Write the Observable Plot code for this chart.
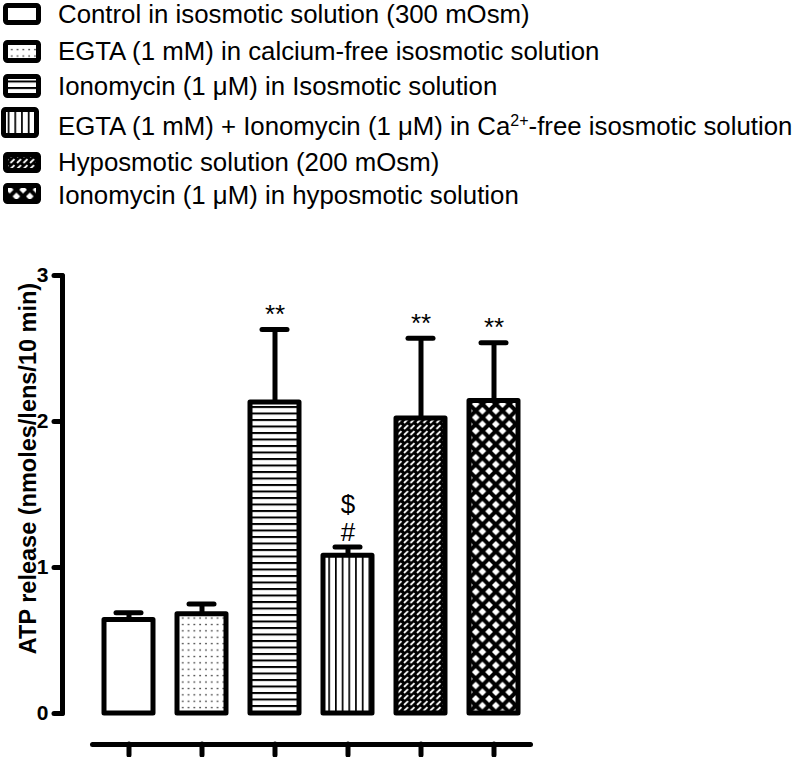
<!DOCTYPE html>
<html><head><meta charset="utf-8">
<script src="https://cdn.jsdelivr.net/npm/d3@7"></script>
<script src="https://cdn.jsdelivr.net/npm/@observablehq/plot@0.6"></script>
<style>
body{margin:0;background:#fff;font-family:"Liberation Sans",Arial,sans-serif;}
#legend{position:relative;width:799px;height:250px;}
.sw{position:absolute;}
.lab{position:absolute;left:58px;font-size:25.8px;color:#000;white-space:nowrap;transform:translateY(-50%);line-height:1;}
.lab sup{font-size:16px;vertical-align:0.6em;line-height:0;}
</style></head><body>
<svg width="0" height="0" style="position:absolute"><defs>
<pattern id="p-open" patternUnits="userSpaceOnUse" width="4" height="4"><rect width="4" height="4" fill="#fff"/></pattern>
<pattern id="p-dots" patternUnits="userSpaceOnUse" width="5.8" height="6.4"><rect width="5.8" height="6.4" fill="#fff"/><rect x="2.3" y="2.6" width="1.3" height="1.3" fill="#000"/></pattern>
<pattern id="p-hlines" patternUnits="userSpaceOnUse" width="8" height="6.5"><rect width="8" height="6.5" fill="#fff"/><rect y="0" width="8" height="2" fill="#000"/></pattern>
<pattern id="p-vlines" patternUnits="userSpaceOnUse" width="6.7" height="8"><rect width="6.7" height="8" fill="#fff"/><rect x="0" width="1.7" height="8" fill="#000"/></pattern>
<pattern id="p-dash" patternUnits="userSpaceOnUse" width="6.5" height="6"><rect width="6.5" height="6" fill="#000"/><line x1="1" y1="5" x2="5" y2="1.2" stroke="#fff" stroke-width="1.8"/></pattern>
<pattern id="p-cross" patternUnits="userSpaceOnUse" width="13.4" height="13.4"><rect width="13.4" height="13.4" fill="#000"/>
<polygon points="6.7,2.9 10.5,6.7 6.7,10.5 2.9,6.7" fill="#fff"/>
<polygon points="0,-3.8 3.8,0 0,3.8 -3.8,0" fill="#fff"/>
<polygon points="13.4,-3.8 17.2,0 13.4,3.8 9.6,0" fill="#fff"/>
<polygon points="0,9.6 3.8,13.4 0,17.2 -3.8,13.4" fill="#fff"/>
<polygon points="13.4,9.6 17.2,13.4 13.4,17.2 9.6,13.4" fill="#fff"/>
</pattern>
</defs></svg>
<div id="legend"></div>
<div id="chart"></div>
<script>
// ---- data ----
const groups = ["Control", "EGTA", "Ionomycin", "EGTA + Ionomycin", "Hyposmotic", "Ionomycin hyposmotic"];
const legendLabels = [
  "Control in isosmotic solution (300 mOsm)",
  "EGTA (1 mM) in calcium-free isosmotic solution",
  "Ionomycin (1 μM) in Isosmotic solution",
  "EGTA (1 mM) + Ionomycin (1 μM) in Ca<sup>2+</sup>-free isosmotic solution",
  "Hyposmotic solution (200 mOsm)",
  "Ionomycin (1 μM) in hyposmotic solution"
];
const means = [0.64, 0.68, 2.13, 1.08, 2.02, 2.14];
const errors = [0.05, 0.07, 0.50, 0.06, 0.55, 0.40];
const patternIds = ["p-open", "p-dots", "p-hlines", "p-vlines", "p-dash", "p-cross"];
const yTicks = [0, 1, 2, 3];
const annotationGroups = ["Ionomycin", "EGTA + Ionomycin", "Hyposmotic", "Ionomycin hyposmotic"];
const annotationTexts = ["**", "$\n#", "**", "**"];
const yLabel = "ATP release (nmoles/lens/10 min)";

// ---- legend layout ----
const swCenters = [14, 51, 86, 122, 162, 193];
const swHeights = [22, 23, 24, 31, 21, 21];
const txtCenters = [15, 52, 87, 127, 163, 196];

const legend = d3.select("#legend");
legendLabels.forEach((lab, i) => {
  const w = 38, h = swHeights[i];
  const svg = legend.append("svg").attr("class", "sw")
    .attr("width", w).attr("height", h)
    .style("left", (i === 3 ? 1 : 3) + "px")
    .style("top", (swCenters[i] - h / 2) + "px");
  svg.append("rect").attr("x", 2.5).attr("y", 2.5).attr("width", w - 5).attr("height", h - 5)
    .attr("rx", 2).attr("fill", `url(#${patternIds[i]})`).attr("stroke", "#000").attr("stroke-width", 5);
  legend.append("div").attr("class", "lab").style("top", txtCenters[i] + "px").html(lab);
});

// ---- chart ----
const data = groups.map((g, i) => ({group: g, mean: means[i], err: errors[i], fill: `url(#${patternIds[i]})`}));
const annotations = annotationGroups.map((g, i) => ({group: g, text: annotationTexts[i], top: means[groups.indexOf(g)] + errors[groups.indexOf(g)]}));
const font = '"Liberation Sans", Arial, sans-serif';

const chart = Plot.plot({
  width: 799, height: 507,
  marginTop: 25, marginBottom: 44, marginLeft: 92, marginRight: 269,
  style: {fontFamily: font, background: "#fff", color: "#000"},
  x: {domain: groups, axis: null, paddingInner: 0.33, paddingOuter: 0.165},
  y: {domain: [0, 3], axis: null},
  color: {type: "identity"},
  marks: [
    Plot.frame({anchor: "left", dx: -30, stroke: "#000", strokeWidth: 5, strokeLinecap: "round"}),
    Plot.axisY(yTicks, {dx: -30, tickSize: 8, tickPadding: 6, stroke: "#000", strokeWidth: 5, strokeLinecap: "round",
      fontSize: 21, fontWeight: "bold", label: null, tickFormat: "d"}),
    Plot.frame({anchor: "bottom", dy: 31, stroke: "#000", strokeWidth: 5, strokeLinecap: "round"}),
    Plot.axisX(groups, {dy: 31, tickSize: 11, stroke: "#000", strokeWidth: 5, strokeLinecap: "round",
      tickFormat: () => "", label: null}),
    Plot.ruleX(data, {x: "group", y1: "mean", y2: d => d.mean + d.err, stroke: "#000", strokeWidth: 5}),
    Plot.barY(data, {x: "group", y: "mean", fill: "fill", stroke: "#000", strokeWidth: 5, strokeLinejoin: "round"}),
    Plot.tickY(data, {x: "group", y: d => d.mean + d.err, stroke: "#000", strokeWidth: 5, strokeLinecap: "round", insetLeft: 12, insetRight: 12}),
    Plot.text(annotations, {x: "group", y: "top", text: "text", lineAnchor: "bottom", lineHeight: 1.05, dy: -6.5, fontSize: 26, fill: "#000"}),
    Plot.text([yLabel], {frameAnchor: "left", textAnchor: "middle", rotate: -90, dx: -64, dy: -26, fontSize: 23.5, fontWeight: "bold", fill: "#000"})
  ]
});
document.getElementById("chart").appendChild(chart);
</script>
</body></html>
